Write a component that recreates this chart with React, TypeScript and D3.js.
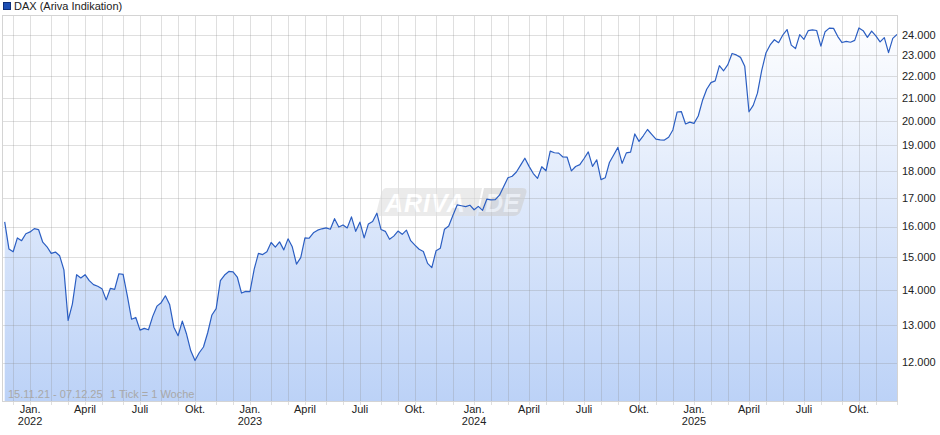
import React from 'react';
import * as d3 from 'd3';

// Weekly closing values (Friday closes)
const values2021 = [16160, 15260, 15170, 15620, 15530, 15760, 15820];
const values2022 = [
  15930, 15900, 15480, 15330, 15120, 15160, 15040, 14600, 13120, 13580,
  14450, 14350, 14450, 14270, 14150, 14100, 14030, 13700, 14040, 14010,
  14480, 14460, 13820, 13150, 13200, 12850, 12900, 12860, 13230, 13520,
  13620, 13820, 13570, 12930, 12700, 13100, 12745, 12300, 12050, 12250,
  12400, 12780, 13270, 13450, 14270, 14440, 14550, 14540, 14380, 13900,
  13950, 13940,
];
const values2023 = [
  14620, 15120, 15080, 15170, 15470, 15320, 15490, 15230, 15590, 15330,
  14780, 14980, 15620, 15610, 15790, 15880, 15925, 15955, 15910, 16270,
  15985, 16055, 15955, 16330, 15840, 16150, 15620, 16090, 16170, 16460,
  15900, 15840, 15575, 15680, 15850, 15740, 15880, 15530, 15385, 15250,
  15180, 14800, 14670, 15200, 15280, 15910, 16020, 16390, 16750, 16720,
  16690, 16740,
];
const values2024 = [
  16580, 16700, 16560, 16955, 16930, 16940, 17100, 17415, 17740, 17800,
  17960, 18220, 18490, 18175, 17900, 17720, 18160, 18005, 18770, 18705,
  18690, 18540, 18530, 18000, 18170, 18240, 18480, 18740, 18175, 18430,
  17670, 17740, 18325, 18620, 18920, 18290, 18700, 18730, 19465, 19160,
  19390, 19650, 19450, 19250, 19220, 19215, 19330, 19630, 20390, 20410,
  19880, 19960,
];
const values2025 = [
  19905, 20220, 20890, 21395, 21700, 21780, 22490, 22250, 22540, 23080,
  23010, 22890, 22460, 20400, 20680, 21220, 22260, 23100, 23500, 23760,
  23610, 24000, 24280, 23490, 23320, 24020, 23780, 24220, 24260, 24230,
  23440, 24170, 24350, 24340, 23920, 23620, 23680, 23635, 23730, 24360,
  24220, 23880, 24200, 23955, 23650, 23870, 23120, 23830, 24030,
];

const firstWeekClose = [2021, 10, 19]; // 19 Nov 2021 (UTC y, m, d)
const yTicks = [12000, 13000, 14000, 15000, 16000, 17000, 18000, 19000, 20000, 21000, 22000, 23000, 24000];
const quarterLabels: Record<number, string> = { 0: 'Jan.', 3: 'April', 6: 'Juli', 9: 'Okt.' };
const legendLabel = 'DAX (Ariva Indikation)';
const rangeLabel = '15.11.21 - 07.12.25';
const tickInfo = '1 Tick = 1 Woche';

const FONT = '"Liberation Sans", Arial, Helvetica, sans-serif';

export default function App() {
  const values = [...values2021, ...values2022, ...values2023, ...values2024, ...values2025];
  const DAY = 864e5;
  const start = Date.UTC(firstWeekClose[0], firstWeekClose[1], firstWeekClose[2]);
  const dates = values.map((_, i) => start + i * 7 * DAY);

  const W = 940, H = 435;
  const plot = { left: 3, right: 897, top: 16, bottom: 401 };

  const x = d3.scaleLinear().domain([0, values.length - 1]).range([4.7, 897]);
  const y = d3.scaleLog().domain([12000, 24000]).range([362.5, 35]);

  const line = d3.line<number>().x((_, i) => x(i)).y((d) => y(d));
  const area = d3.area<number>().x((_, i) => x(i)).y0(plot.bottom).y1((d) => y(d));

  // month gridlines: first weekly point whose week contains the 1st of the month
  const months: { idx: number; month: number; year: number }[] = [];
  {
    let yr = 2021, mo = 11;
    for (let k = 0; k < 100; k++) {
      const m = Date.UTC(yr, mo, 1);
      const idx = dates.findIndex((d) => d + 2 * DAY >= m);
      if (idx < 0) break;
      months.push({ idx, month: mo, year: yr });
      mo++;
      if (mo > 11) { mo = 0; yr++; }
    }
  }

  const gridColor = 'rgba(140,140,140,0.28)';
  const snap = (v: number) => Math.round(v) + 0.5;

  return (
    <svg width={W} height={H} style={{ position: 'absolute', left: 0, top: 0, background: '#fff' }} fontFamily={FONT}>
      <defs>
        <linearGradient id="fillGrad" x1="0" y1={plot.top} x2="0" y2={plot.bottom} gradientUnits="userSpaceOnUse">
          <stop offset="0" stopColor="#ffffff" />
          <stop offset="0.5" stopColor="#dde8fb" />
          <stop offset="1" stopColor="#bcd2f7" />
        </linearGradient>
        <clipPath id="plotClip">
          <rect x={plot.left} y={plot.top} width={plot.right - plot.left} height={plot.bottom - plot.top} />
        </clipPath>
      </defs>

      {/* area fill */}
      <path d={area(values) || ''} fill="url(#fillGrad)" clipPath="url(#plotClip)" />

      {/* horizontal gridlines */}
      {yTicks.map((t) => (
        <line key={'h' + t} x1={plot.left} x2={plot.right} y1={snap(y(t))} y2={snap(y(t))} stroke={gridColor} strokeWidth={1} />
      ))}
      {/* vertical gridlines */}
      {months.map((m) => (
        <line key={'v' + m.year + '-' + m.month} x1={snap(x(m.idx))} x2={snap(x(m.idx))}
          y1={plot.top} y2={plot.bottom + 4} stroke={gridColor} strokeWidth={1} />
      ))}

      {/* watermark */}
      <g opacity={0.6}>
        <path d="M386,188 L482,188 L476,216 L381,216 Q375,216 377,210 L381,194 Q383,188 386,188 Z" fill="#dedede" />
        <path d="M484,188 L522,188 Q528,188 526,194 L521,210 Q519,216 513,216 L478,216 Z" fill="#cfcfcf" />
        <text x={385} y={212} fontSize={25} fontStyle="italic" fontWeight="bold" fill="#ffffff" letterSpacing={1}>ARIVA</text>
        <text x={478} y={212} fontSize={25} fontStyle="italic" fontWeight="bold" fill="#f2f2f2">.DE</text>
      </g>

      {/* line */}
      <path d={line(values) || ''} fill="none" stroke="#2b5ec2" strokeWidth={1.2} strokeLinejoin="round" clipPath="url(#plotClip)" />

      {/* plot frame */}
      <rect x={plot.left - 0.5} y={plot.top - 0.5} width={plot.right - plot.left + 1} height={plot.bottom - plot.top + 1}
        fill="none" stroke="#d4d4d4" strokeWidth={1} />

      {/* right axis labels */}
      {yTicks.map((t) => (
        <text key={'l' + t} x={902} y={y(t)} dy="0.35em" fontSize={11} fill="#222">
          {d3.format(',')(t).replace(/,/g, '.')}
        </text>
      ))}

      {/* x axis labels */}
      {months.filter((m) => quarterLabels[m.month] !== undefined).map((m) => (
        <g key={'xl' + m.year + '-' + m.month}>
          <text x={x(m.idx)} y={413} fontSize={11} fill="#222" textAnchor="middle">{quarterLabels[m.month]}</text>
          {m.month === 0 && (
            <text x={x(m.idx)} y={425} fontSize={11} fill="#222" textAnchor="middle">{m.year}</text>
          )}
        </g>
      ))}

      {/* info text */}
      <text x={8} y={398} fontSize={11} fill="#a8a8a8">{rangeLabel}</text>
      <text x={110} y={398} fontSize={11} fill="#a8a8a8">{tickInfo}</text>

      {/* legend */}
      <rect x={3.5} y={2.5} width={7} height={7} fill="#1d4fb4" stroke="#0d2d78" strokeWidth={1} />
      <text x={14} y={10} fontSize={11} fill="#222">{legendLabel}</text>
    </svg>
  );
}
